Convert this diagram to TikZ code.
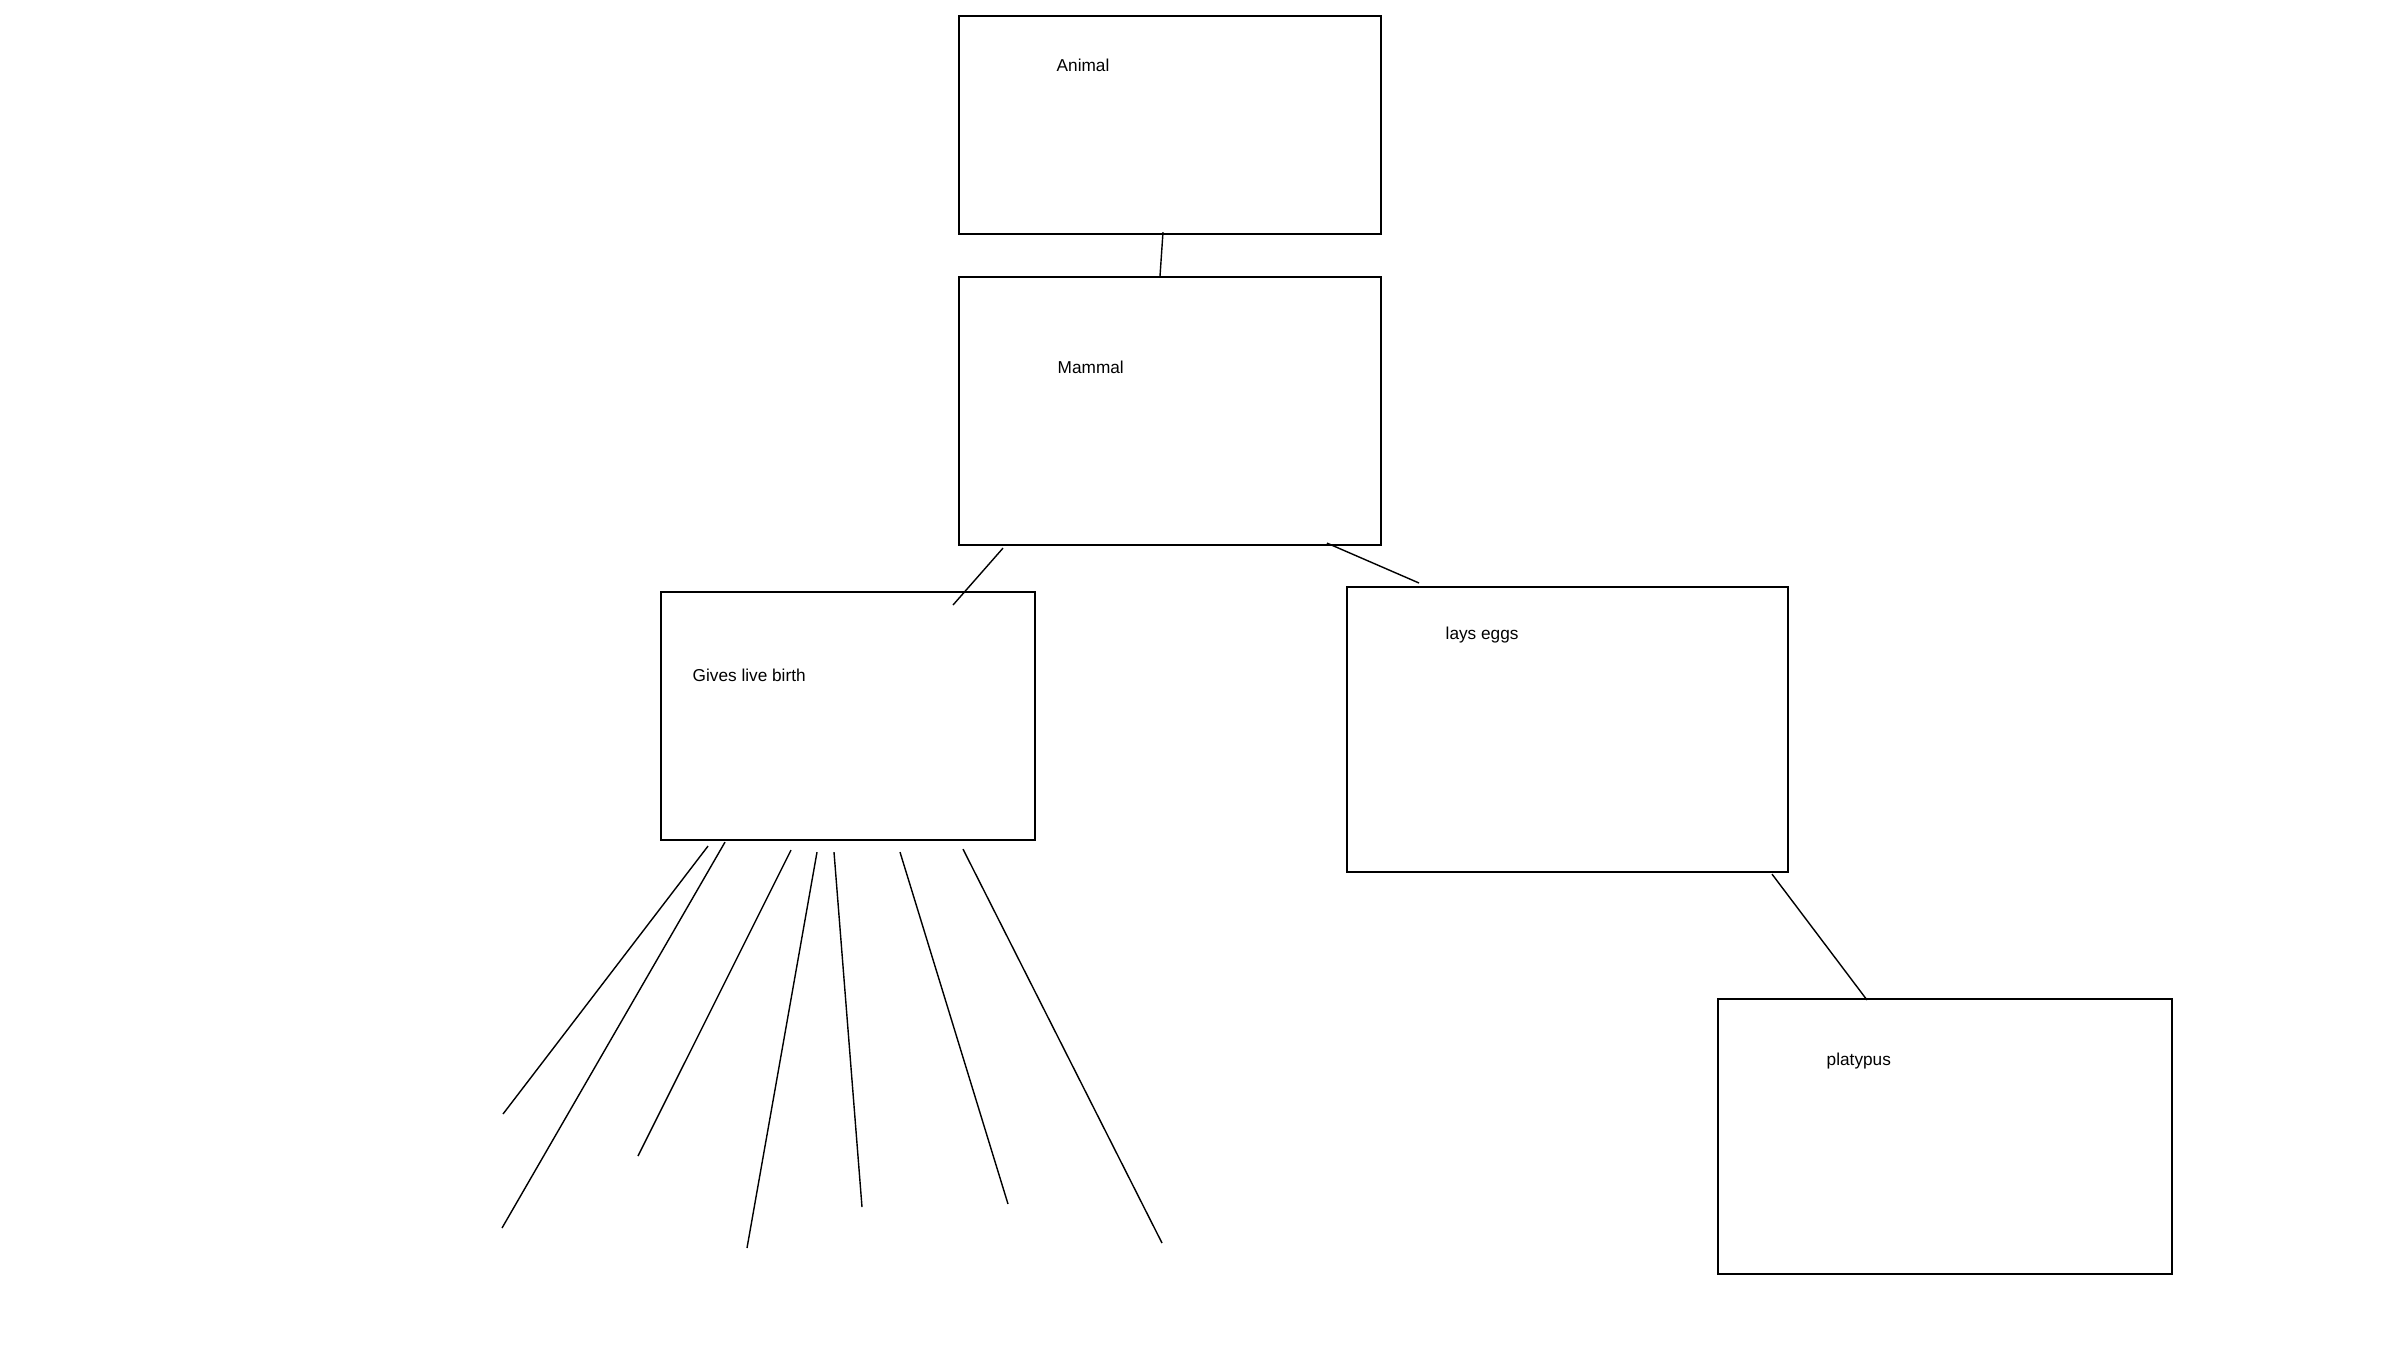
\documentclass[tikz,border=0pt]{standalone}
\usepackage{fontspec}
\setmainfont{Liberation Sans}
\usepackage{tikz}
\usetikzlibrary{calc}

\begin{document}
\begin{tikzpicture}[x=0.01cm, y=-0.01cm,
  box/.style={draw, line width=0.55pt, anchor=north west, inner sep=0pt},
  lbl/.style={anchor=base west, inner sep=0pt, font=\fontsize{4.9}{6}\selectfont},
  ray/.style={line width=0.4pt}]
\useasboundingbox (0,0) rectangle (2400,1350);
% boxes
\node[box, minimum width=4.22cm, minimum height=2.18cm] (animal) at (958,15)   {};
\node[box, minimum width=4.22cm, minimum height=2.68cm] (mammal) at (958,276)  {};
\node[box, minimum width=3.74cm, minimum height=2.48cm] (live)   at (660,591)  {};
\node[box, minimum width=4.41cm, minimum height=2.85cm] (eggs)   at (1346,586) {};
\node[box, minimum width=4.54cm, minimum height=2.75cm] (platy)  at (1717,998) {};
% labels
\node[lbl] (tanimal) at (1056,71)   {Animal};
\node[lbl] (tmammal) at (1057,373)  {Mammal};
\node[lbl] (tlive)   at (692,681)   {Gives live birth};
\node[lbl] (teggs)   at (1445,639)  {lays eggs};
\node[lbl] (tplaty)  at (1826,1065) {platypus};
% links
\draw[ray] ($(animal.south west)+(205,-3)$) -- ($(mammal.north west)+(202,0)$);
\draw[ray] ($(mammal.south west)+(45,2)$)   -- ($(live.north west)+(293,14)$);
\draw[ray] ($(mammal.south west)+(369,-3)$) -- ($(eggs.north west)+(73,-3)$);
\draw[ray] ($(eggs.south west)+(426,1)$)    -- ($(platy.north west)+(150,2)$);
% loose ends under "Gives live birth"
\coordinate (e1) at (503,1114);
\coordinate (e2) at (502,1228);
\coordinate (e3) at (638,1156);
\coordinate (e4) at (747,1248);
\coordinate (e5) at (862,1207);
\coordinate (e6) at (1008,1204);
\coordinate (e7) at (1162,1243);
\foreach \dx/\dy/\e in {48/5/e1, 65/1/e2, 131/9/e3, 157/11/e4, 174/11/e5, 240/11/e6, 303/8/e7}
  \draw[ray] ($(live.south west)+(\dx,\dy)$) -- (\e);
\end{tikzpicture}
\end{document}
